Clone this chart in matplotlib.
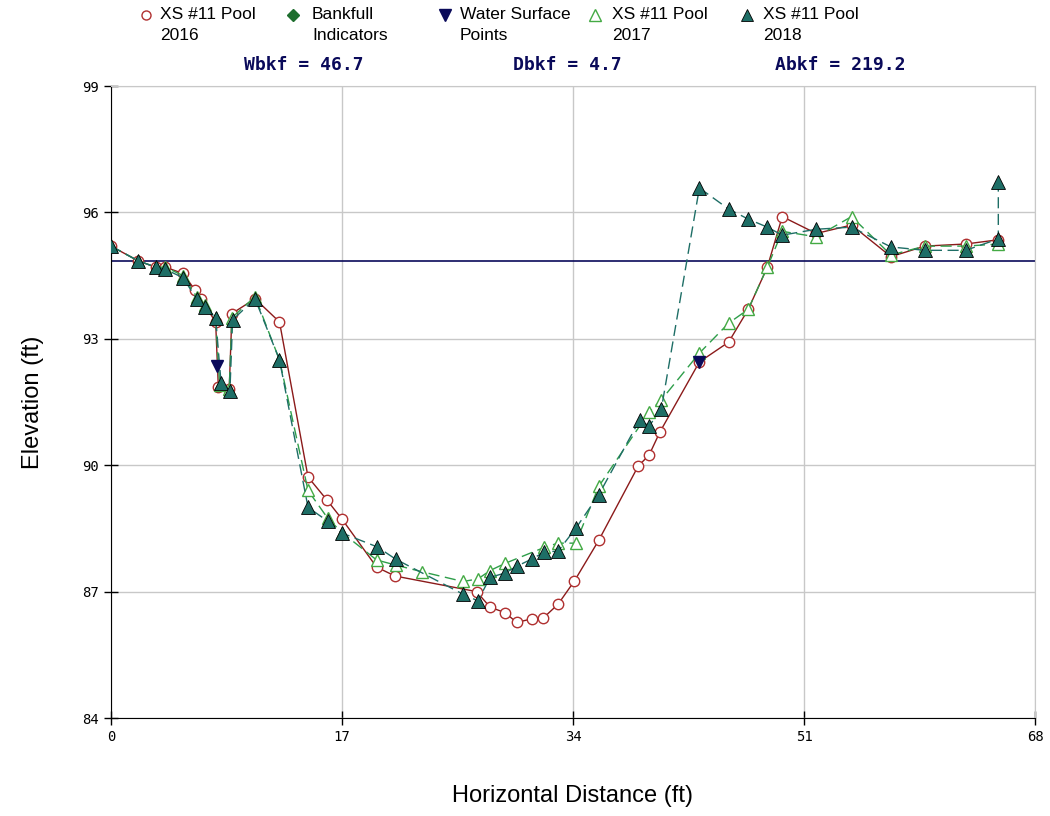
import numpy as np
import matplotlib.pyplot as plt
from matplotlib.lines import Line2D

# cross-section survey data (ft)
x_2016 = [0, 2, 3.3, 4, 5.3, 6.2, 6.6, 7.7, 7.9, 8.7, 8.9, 10.6, 12.4, 14.5, 15.9, 17.0,
          19.55, 20.9, 26.9, 27.9, 29.0, 29.85, 30.95, 31.8, 32.9, 34.1, 35.9, 38.8,
          39.6, 40.4, 43.3, 45.45, 46.9, 48.3, 49.4, 51.9, 54.5, 57.4, 59.9, 62.9, 65.3]
y_2016 = [95.2, 94.85, 94.7, 94.7, 94.55, 94.15, 93.95, 93.4, 91.85, 91.8, 93.6, 93.95, 93.4,
          89.72, 89.17, 88.72, 87.58, 87.37, 87.0, 86.63, 86.5, 86.27, 86.35, 86.37, 86.7,
          87.25, 88.22, 89.98, 90.24, 90.79, 92.45, 92.92, 93.7, 94.7, 95.9, 95.5, 95.7,
          94.95, 95.2, 95.25, 95.35]

x_2017 = [0, 2, 3.3, 4, 5.3, 6.3, 6.9, 7.7, 8.0, 8.7, 8.9, 10.6, 12.4, 14.5, 15.95, 17.0,
          19.55, 20.95, 22.9, 25.9, 27.0, 27.9, 29.0, 31.9, 32.9, 34.2, 35.9, 39.6, 40.5,
          43.3, 45.45, 46.9, 48.3, 49.4, 51.9, 54.5, 57.4, 59.9, 62.9, 65.3]
y_2017 = [95.2, 94.85, 94.7, 94.7, 94.5, 94.0, 93.8, 93.5, 91.9, 91.8, 93.5, 94.0, 92.5,
          89.4, 88.74, 88.4, 87.75, 87.63, 87.47, 87.24, 87.3, 87.5, 87.67, 88.05, 88.15,
          88.15, 89.5, 91.26, 91.55, 92.66, 93.37, 93.7, 94.7, 95.55, 95.42, 95.9, 94.99,
          95.2, 95.2, 95.25]

x_2018 = [0, 2, 3.3, 4, 5.3, 6.3, 6.9, 7.7, 8.1, 8.75, 8.95, 10.6, 12.4, 14.5, 15.95, 17.0,
          19.6, 20.95, 25.9, 27.0, 27.9, 29.0, 29.85, 30.95, 31.9, 32.9, 34.2, 35.9, 38.9,
          39.6, 40.5, 43.3, 45.45, 46.9, 48.3, 49.4, 51.9, 54.5, 57.4, 59.9, 62.9, 65.3, 65.3]
y_2018 = [95.2, 94.85, 94.7, 94.65, 94.45, 93.95, 93.75, 93.5, 91.95, 91.75, 93.45, 93.95,
          92.5, 89.0, 88.67, 88.39, 88.06, 87.77, 86.94, 86.78, 87.34, 87.44, 87.6, 87.77,
          87.94, 87.96, 88.5, 89.3, 91.07, 90.93, 91.33, 96.58, 96.08, 95.84, 95.65, 95.46,
          95.6, 95.65, 95.18, 95.1, 95.1, 95.37, 96.72]

x_ws = [7.8, 43.3]
y_ws = [92.35, 92.45]

bankfull_elev = 94.85
stats = ['Wbkf = 46.7', 'Dbkf = 4.7', 'Abkf = 219.2']
legend_labels = ['XS #11 Pool\n2016', 'Bankfull\nIndicators', 'Water Surface\nPoints',
                 'XS #11 Pool\n2017', 'XS #11 Pool\n2018']

red = '#8b1a1a'
green = '#2e9e4a'
teal = '#1e6e66'
navy = '#0a0a5a'

W, H = 1050, 816
fig = plt.figure(figsize=(W / 100, H / 100), dpi=100)
ax = fig.add_axes([111 / W, 1 - 718 / H, 924 / W, 632 / H])

ax.axhline(bankfull_elev, color=navy, lw=1.2, zorder=2)

ax.plot(x_2016, y_2016, color=red, lw=1, marker='o', ms=7.5, mfc='white', mec='#b03030',
        mew=1, zorder=3)
ax.plot(x_2017, y_2017, color=green, lw=1, ls=(0, (8, 4)), marker='^', ms=8.5, mfc='white',
        mec='#44aa44', mew=1, zorder=4)
ax.plot(x_2018, y_2018, color=teal, lw=1, ls=(0, (8, 4)), marker='^', ms=9.5, mfc=teal,
        mec='black', mew=0.6, zorder=5)
ax.plot(x_ws, y_ws, ls='none', marker='v', ms=8, mfc=navy, mec=navy, zorder=6)

ax.set_xlim(0, 68)
ax.set_ylim(84, 99)
ax.set_xticks([0, 17, 34, 51, 68])
ax.set_yticks([84, 87, 90, 93, 96, 99])
ax.grid(True, color='#c8c8c8', lw=1)
ax.set_axisbelow(True)
for s in ['top', 'right']:
    ax.spines[s].set_color('#c8c8c8')
ax.tick_params(direction='inout', length=10, width=1, labelsize=10)
for lab in ax.get_xticklabels() + ax.get_yticklabels():
    lab.set_family('DejaVu Sans Mono')

ax.set_xlabel('Horizontal Distance (ft)', fontsize=17, labelpad=30, family='Liberation Sans')
ax.set_ylabel('Elevation (ft)', fontsize=17, labelpad=28, family='Liberation Sans')

# legend row above the plot, placed by hand
marker_x = [146, 293, 445, 595, 747]
text_x = [160, 312, 460, 612, 763]
marker_styles = [
    dict(marker='o', ms=6.5, mfc='white', mec='#b03030'),
    dict(marker='D', ms=6, mfc='#1e6e2e', mec='#1e6e2e'),
    dict(marker='v', ms=8.5, mfc=navy, mec=navy),
    dict(marker='^', ms=8.5, mfc='white', mec='#44aa44'),
    dict(marker='^', ms=8.5, mfc=teal, mec='black', mew=0.6),
]
for mx, tx, st, lab in zip(marker_x, text_x, marker_styles, legend_labels):
    fig.add_artist(Line2D([mx / W], [1 - 15 / H], transform=fig.transFigure, ls='none', **st))
    fig.text(tx / W, 1 - 7 / H, lab, ha='left', va='top', fontsize=12.5,
             family='Liberation Sans', linespacing=1.5)

for sx, t in zip([304, 567, 840], stats):
    fig.text(sx / W, 1 - 65 / H, t, ha='center', va='center', fontsize=13, color=navy,
             family='DejaVu Sans Mono', fontweight='bold')

fig.savefig('out.png', dpi=100)
